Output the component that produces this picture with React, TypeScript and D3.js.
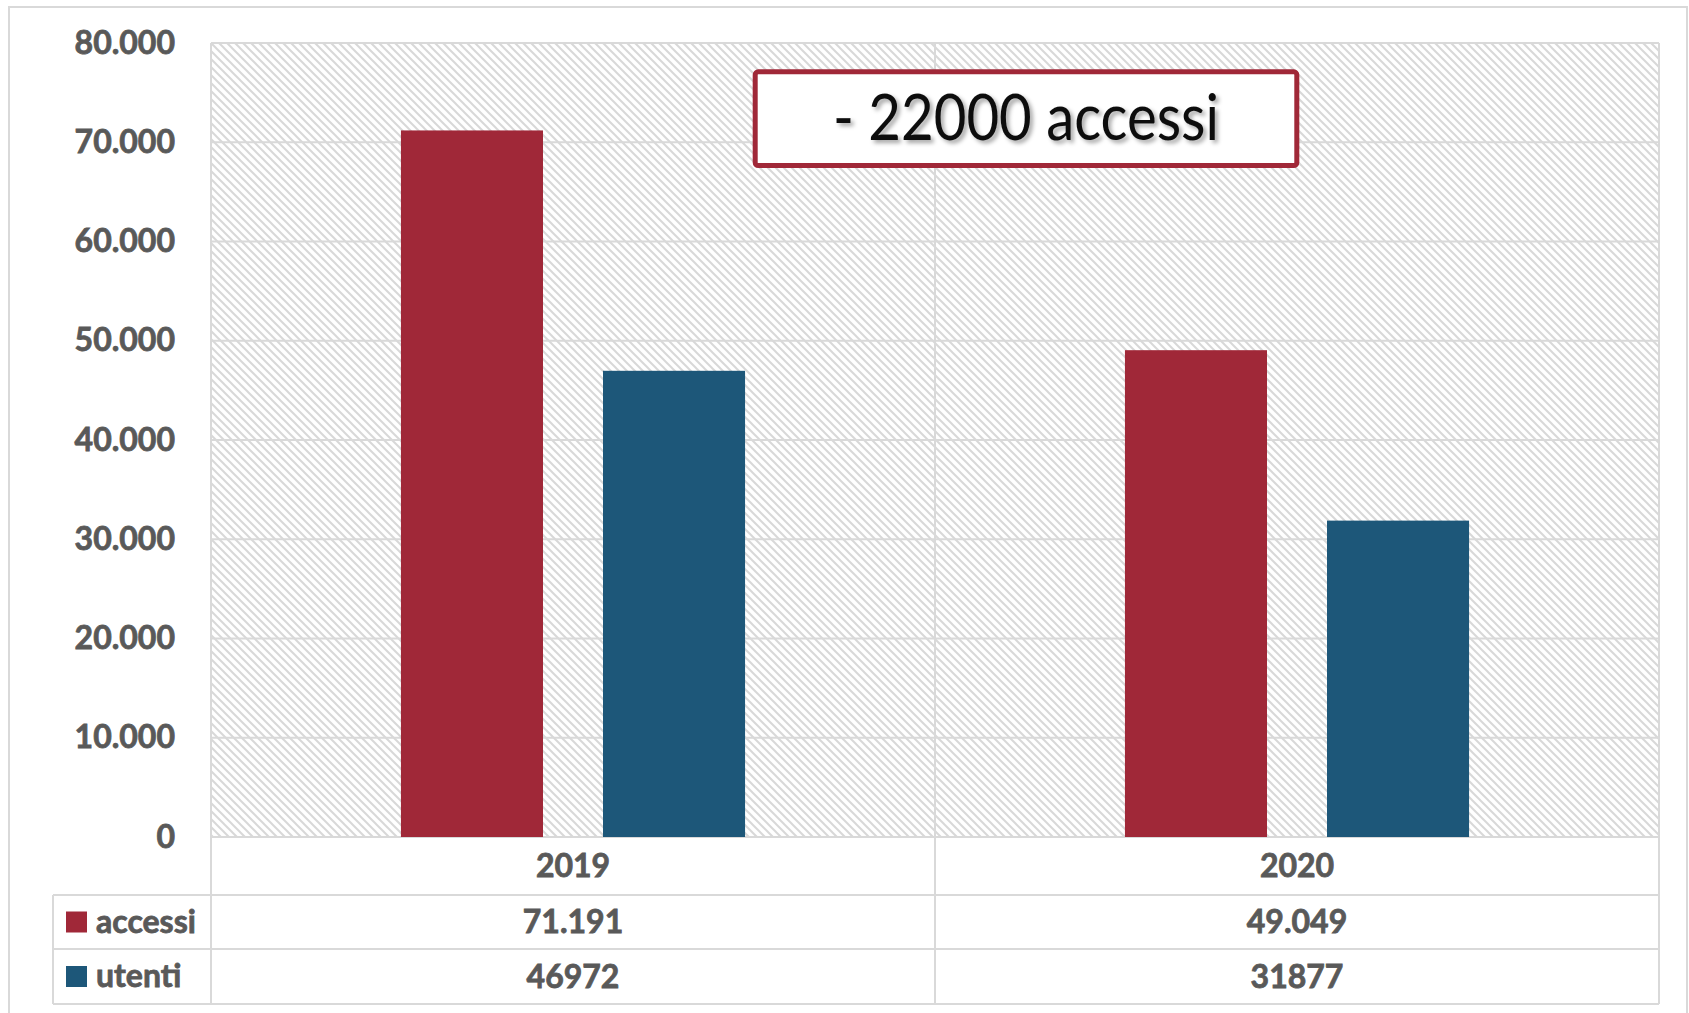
import React from "react";
import * as d3 from "d3";

const categories = ["2019", "2020"];
const seriesNames = ["accessi", "utenti"];
const accessi = [71191, 49049];
const utenti = [46972, 31877];
const accessiLabels = ["71.191", "49.049"];
const utentiLabels = ["46972", "31877"];
const yTicks = [0, 10000, 20000, 30000, 40000, 50000, 60000, 70000, 80000];
const annotation = "- 22000 accessi";

const colors: Record<string, string> = { accessi: "#A02838", utenti: "#1D5779" };
const gridColor = "#d9d9d9";
const textColor = "#595959";
const font = "Lato, 'Open Sans', sans-serif";

const labelStyle = {
  fontFamily: font,
  fontWeight: 700,
  fontSize: 32,
  fill: textColor,
  stroke: textColor,
  strokeWidth: 0.8,
} as const;

export default function App() {
  const W = 1689, H = 1013;
  const plotL = 211, plotR = 1659, plotT = 43, plotB = 837;
  const row1 = 895, row2 = 949, row3 = 1004;
  const legendL = 53;

  const x = d3.scaleBand<string>().domain(categories).range([plotL, plotR]);
  const inner = d3
    .scaleBand<string>()
    .domain(seriesNames)
    .range([0, x.bandwidth()])
    .paddingInner(0.297)
    .paddingOuter(0.94);
  const y = d3.scaleLinear().domain([0, 80000]).range([plotB, plotT]);
  const fmt = (v: number) => (v === 0 ? "0" : d3.format(",")(v).replace(/,/g, "."));

  const seriesData: Record<string, number[]> = { accessi, utenti };
  const tableRows = [
    { name: "accessi", labels: accessiLabels, top: row1, bottom: row2 },
    { name: "utenti", labels: utentiLabels, top: row2, bottom: row3 },
  ];

  return (
    <svg
      width={W}
      height={H}
      style={{ position: "absolute", left: 0, top: 0, display: "block", background: "#fff" }}
    >
      <defs>
        <pattern id="hatch" width="8" height="8" patternUnits="userSpaceOnUse">
          <rect width="8" height="8" fill="#ffffff" />
          <path d="M-2,-2 L10,10 M-2,6 L2,10 M6,-2 L10,2" stroke="#d8d8d8" strokeWidth="2" />
        </pattern>
        <filter id="shadow" x="-10%" y="-30%" width="120%" height="160%">
          <feDropShadow dx="3" dy="3" stdDeviation="2" floodColor="#000" floodOpacity="0.35" />
        </filter>
      </defs>

      {/* outer frame */}
      <rect x={9} y={7} width={1678} height={1020} fill="#fff" stroke={gridColor} strokeWidth={2} />

      {/* plot area */}
      <rect x={plotL} y={plotT} width={plotR - plotL} height={plotB - plotT} fill="url(#hatch)" />

      {/* horizontal gridlines */}
      {yTicks.map((t) => (
        <line key={t} x1={plotL} x2={plotR} y1={y(t)} y2={y(t)} stroke={gridColor} strokeWidth={2} />
      ))}

      {/* vertical lines (category separators) */}
      {[plotL, plotL + x.bandwidth(), plotR].map((vx, i) => (
        <line key={i} x1={vx} x2={vx} y1={plotT} y2={row3} stroke={gridColor} strokeWidth={2} />
      ))}

      {/* table horizontal lines */}
      {[row1, row2, row3].map((ry) => (
        <line key={ry} x1={legendL} x2={plotR} y1={ry} y2={ry} stroke={gridColor} strokeWidth={2} />
      ))}
      <line x1={legendL} x2={legendL} y1={row1} y2={row3} stroke={gridColor} strokeWidth={2} />

      {/* bars */}
      {categories.map((c, ci) =>
        seriesNames.map((s) => (
          <rect
            key={c + s}
            x={(x(c) ?? 0) + (inner(s) ?? 0)}
            y={y(seriesData[s][ci])}
            width={inner.bandwidth()}
            height={plotB - y(seriesData[s][ci])}
            fill={colors[s]}
          />
        ))
      )}

      {/* y labels */}
      {yTicks.map((t) => (
        <text key={t} x={175} y={y(t) + 10.5} textAnchor="end" style={labelStyle}>
          {fmt(t)}
        </text>
      ))}

      {/* category labels */}
      {categories.map((c) => (
        <text key={c} x={(x(c) ?? 0) + x.bandwidth() / 2} y={877} textAnchor="middle" style={labelStyle}>
          {c}
        </text>
      ))}

      {/* table rows */}
      {tableRows.map((r) => (
        <g key={r.name}>
          <rect x={66} y={(r.top + r.bottom) / 2 - 10.5} width={21} height={21} fill={colors[r.name]} />
          <text x={96} y={(r.top + r.bottom) / 2 + 10.5} style={labelStyle}>
            {r.name}
          </text>
          {categories.map((c, ci) => (
            <text
              key={c}
              x={(x(c) ?? 0) + x.bandwidth() / 2}
              y={(r.top + r.bottom) / 2 + 11}
              textAnchor="middle"
              style={labelStyle}
            >
              {r.labels[ci]}
            </text>
          ))}
        </g>
      ))}

      {/* annotation box */}
      <rect x={755.2} y={71.8} width={541.6} height={93.7} rx={3} fill="#fff" stroke="#A02838" strokeWidth={5} />
      <text
        x={833}
        y={140}
        fontFamily={font}
        fontSize={63}
        fill="#111"
        textLength={386}
        lengthAdjust="spacingAndGlyphs"
        filter="url(#shadow)"
      >
        {annotation}
      </text>
    </svg>
  );
}
